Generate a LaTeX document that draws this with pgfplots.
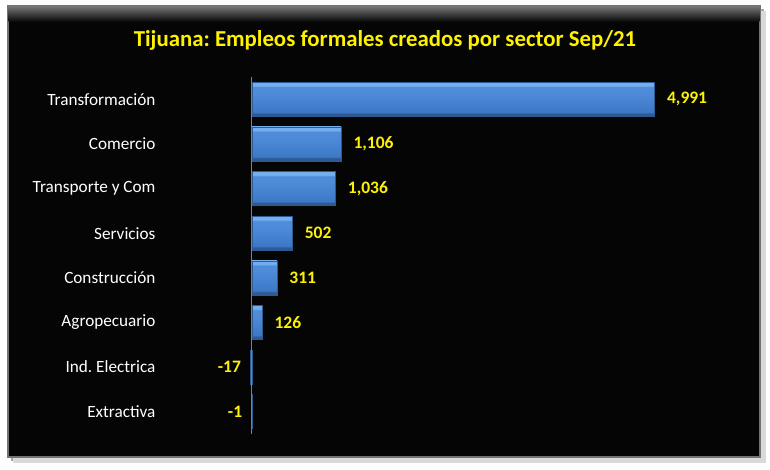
\documentclass[border=0pt]{standalone}
\usepackage{fontspec}
\setmainfont{Carlito}
\usepackage{pgfplots}
\pgfplotsset{compat=1.18}
\definecolor{bartop}{HTML}{74AEEE}
\definecolor{barlight}{HTML}{4E8CDA}
\definecolor{barmid}{HTML}{3C78C6}
\definecolor{barbot}{HTML}{2D5A94}
\definecolor{baredge}{HTML}{2E5A92}
\pgfdeclareverticalshading{barshade}{100bp}{color(0bp)=(barbot); color(25bp)=(barbot); color(29bp)=(barbot); color(31bp)=(barmid); color(60bp)=(barlight); color(68bp)=(barlight); color(70bp)=(bartop); color(75bp)=(bartop); color(100bp)=(bartop)}
\frenchspacing
\begin{document}
\begin{tikzpicture}
\useasboundingbox (0pt,0pt) rectangle (770pt,-470pt);
\fill[white] (0pt,0pt) rectangle (770pt,-470pt);
\fill[black!35] (11pt,-9pt) rectangle (764pt,-461pt);
\fill[black!15] (13pt,-11pt) rectangle (766pt,-463pt);
\draw[black!55, line width=1.2pt, fill=black!98] (8pt,-6pt) rectangle (760pt,-457pt);
\shade[top color=black!55, bottom color=black!98] (8.6pt,-6.6pt) rectangle (759.4pt,-22pt);
\node[text=yellow, font=\bfseries\fontsize{22.8}{27}\selectfont] at (385pt,-40pt) {Tijuana: Empleos formales creados por sector Sep/21};
\begin{axis}[
  at={(159pt,-434pt)}, anchor=south west,
  scale only axis, width=577pt, height=357pt,
  xbar, bar width=34pt,
  xmin=-1150, xmax=6000, ymin=-0.5, ymax=7.5,
  y dir=reverse,
  ytick={0,...,7},
  yticklabels={Transformación,Comercio,Transporte y Com,Servicios,Construcción,Agropecuario,Ind. Electrica,Extractiva},
  xtick=\empty,
  axis line style={draw=none},
  major tick length=0pt,
  yticklabel style={text=white, font=\fontsize{17.2}{20}\selectfont},
  nodes near coords,
  nodes near coords style={text=yellow, font=\bfseries\fontsize{17.5}{20}\selectfont, anchor=west, xshift=9pt},
  /pgf/number format/1000 sep={,},
  /pgf/number format/assume math mode=true,
  clip=false,
  mybar/.style={bar shift=0pt, draw=baredge, shade, shading=barshade},
  negbar/.style={bar shift=0pt, draw=baredge, shade, shading=barshade, nodes near coords style={anchor=east, xshift=-15pt}},
]
\addplot[mybar] coordinates {(4991,0)};
\addplot[mybar] coordinates {(1106,1)};
\addplot[mybar] coordinates {(1036,2)};
\addplot[mybar] coordinates {(502,3)};
\addplot[mybar] coordinates {(311,4)};
\addplot[mybar] coordinates {(126,5)};
\addplot[negbar] coordinates {(-17,6)};
\addplot[negbar] coordinates {(-1,7)};
\draw[black!50, line width=0.8pt] (axis cs:0,-0.5) -- (axis cs:0,7.5);
\end{axis}
\end{tikzpicture}
\end{document}
